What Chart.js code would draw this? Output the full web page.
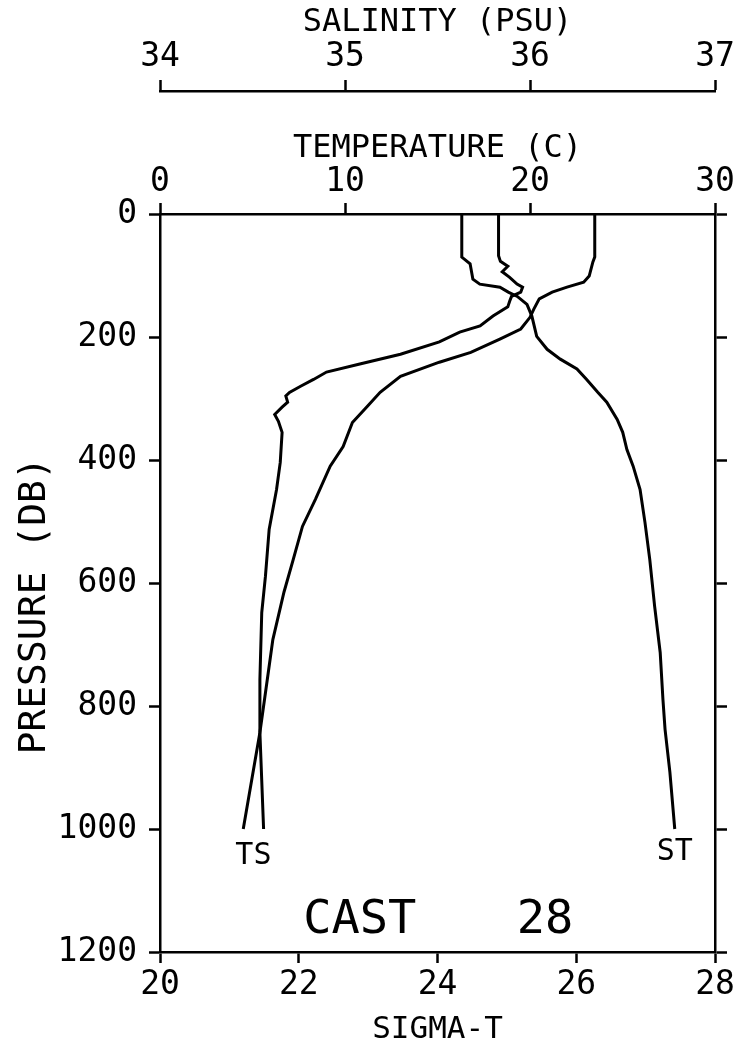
<!DOCTYPE html>
<html>
<head>
<meta charset="utf-8">
<script src="https://cdn.jsdelivr.net/npm/chart.js@4.4.1/dist/chart.umd.min.js"></script>
<style>
  html, body { margin: 0; padding: 0; background: #fff; }
</style>
</head>
<body>
<canvas id="cast" width="740" height="1050"></canvas>
<script>
// CTD cast 28 - temperature, salinity and sigma-t against pressure
const tempPres = [0, 70, 78, 101, 111, 119, 127, 138, 155, 168, 187, 203, 225, 241, 264, 290, 313, 339, 378, 410, 464, 508, 562, 615, 692, 757, 843, 1000];
const tempVals = [23.5, 23.5, 23.4, 23.2, 22.9, 22.0, 21.2, 20.5, 20.2, 20.0, 19.5, 18.4, 16.8, 15.1, 13.0, 11.9, 11.2, 10.4, 9.9, 9.2, 8.4, 7.7, 7.2, 6.7, 6.1, 5.8, 5.4, 4.5];

const salPres = [0, 68, 77, 85, 94, 103, 114, 119, 127, 134, 142, 151, 166, 182, 192, 208, 228, 244, 257, 269, 280, 290, 296, 306, 314, 326, 337, 355, 404, 448, 513, 589, 648, 757, 843, 1000];
const salVals = [35.83, 35.83, 35.84, 35.88, 35.85, 35.89, 35.93, 35.96, 35.95, 35.90, 35.89, 35.88, 35.80, 35.73, 35.62, 35.51, 35.30, 35.08, 34.90, 34.83, 34.76, 34.70, 34.68, 34.69, 34.66, 34.62, 34.64, 34.66, 34.65, 34.63, 34.59, 34.57, 34.55, 34.54, 34.54, 34.56];

const sigPres = [0, 70, 81, 106, 114, 119, 127, 134, 147, 166, 199, 220, 236, 252, 269, 290, 306, 334, 355, 383, 410, 448, 501, 562, 638, 713, 790, 838, 908, 1000];
const sigVals = [24.35, 24.35, 24.47, 24.51, 24.61, 24.90, 25.02, 25.15, 25.29, 25.36, 25.43, 25.58, 25.77, 26.01, 26.15, 26.31, 26.44, 26.59, 26.67, 26.73, 26.82, 26.92, 26.99, 27.06, 27.13, 27.21, 27.25, 27.28, 27.35, 27.42];

const presTicks = [0, 200, 400, 600, 800, 1000, 1200];
const tempTicks = [0, 10, 20, 30];
const salTicks = [34, 35, 36, 37];
const sigTicks = [20, 22, 24, 26, 28];

const castNo = '28';

const FONT = "'DejaVu Sans Mono', monospace";
Chart.defaults.font.family = FONT;
Chart.defaults.color = '#000';

const toPoints = (vals, pres) => vals.map((v, i) => ({x: v, y: pres[i]}));
const fixTicks = list => scale => { scale.ticks = list.map(v => ({value: v})); };
const plain = v => String(v);

function axis(opts) {
    return Object.assign({
        type: 'linear',
        grid: { drawOnChartArea: false, drawTicks: true, tickLength: 11, tickWidth: 2.5, tickColor: '#000' },
        border: { display: true, color: '#000', width: 2.5 },
    }, opts);
}

const castLabels = {
    id: 'castLabels',
    afterDraw(chart) {
        const {ctx, scales} = chart;
        ctx.save();
        ctx.fillStyle = '#000';
        ctx.textAlign = 'center';
        ctx.textBaseline = 'middle';
        ctx.font = '30px ' + FONT;
        const tsX = (scales.xT.getPixelForValue(tempVals[tempVals.length - 1]) +
                     scales.xS.getPixelForValue(salVals[salVals.length - 1])) / 2;
        ctx.fillText('TS', tsX, scales.y.getPixelForValue(1044));
        ctx.fillText('ST', scales.xSig.getPixelForValue(sigVals[sigVals.length - 1]), scales.y.getPixelForValue(1037));
        ctx.font = '47px ' + FONT;
        const yc = scales.y.getPixelForValue(1150);
        ctx.fillText('CAST', scales.xSig.getPixelForValue(22.88), yc);
        ctx.fillText(castNo, scales.xSig.getPixelForValue(25.55), yc);
        ctx.restore();
    }
};

const line = {
    showLine: true,
    borderColor: '#000',
    backgroundColor: '#000',
    borderWidth: 3,
    pointRadius: 0,
    tension: 0,
    fill: false,
    yAxisID: 'y',
};

new Chart(document.getElementById('cast').getContext('2d'), {
    type: 'scatter',
    data: {
        datasets: [
            Object.assign({ label: 'Temperature', data: toPoints(tempVals, tempPres), xAxisID: 'xT' }, line),
            Object.assign({ label: 'Salinity', data: toPoints(salVals, salPres), xAxisID: 'xS' }, line),
            Object.assign({ label: 'Sigma-T', data: toPoints(sigVals, sigPres), xAxisID: 'xSig' }, line),
        ],
    },
    options: {
        responsive: false,
        animation: false,
        devicePixelRatio: 1,
        layout: { padding: 0 },
        plugins: { legend: { display: false }, tooltip: { enabled: false } },
        scales: {
            xS: axis({
                position: 'top', weight: 10, min: 34, max: 37,
                afterBuildTicks: fixTicks(salTicks),
                afterFit: s => { s.height = 91; },
                ticks: { font: { size: 33 }, color: '#000', padding: 3, callback: plain },
                title: { display: true, text: 'SALINITY (PSU)', font: { size: 32 }, color: '#000', padding: { top: 3, bottom: 0 } },
            }),
            xT: axis({
                position: 'top', weight: 0, min: 0, max: 30,
                afterBuildTicks: fixTicks(tempTicks),
                afterFit: s => { s.height = 123; },
                ticks: { font: { size: 33 }, color: '#000', padding: 1, callback: plain },
                title: { display: true, text: 'TEMPERATURE (C)', font: { size: 32 }, color: '#000', padding: { top: 38, bottom: 0 } },
            }),
            xSig: axis({
                position: 'bottom', min: 20, max: 28,
                afterBuildTicks: fixTicks(sigTicks),
                afterFit: s => { s.height = 98; },
                ticks: { font: { size: 33 }, color: '#000', padding: 3, callback: plain },
                title: { display: true, text: 'SIGMA-T', font: { size: 31 }, color: '#000', padding: { top: 0, bottom: 1 } },
            }),
            y: axis({
                position: 'left', reverse: true, min: 0, max: 1200,
                afterBuildTicks: fixTicks(presTicks),
                afterFit: s => { s.width = 160; },
                ticks: { font: { size: 33 }, color: '#000', padding: 12, callback: plain },
                title: { display: true, text: 'PRESSURE (DB)\u00a0\u00a0', font: { size: 38 }, color: '#000', padding: { top: 12, bottom: 0 } },
            }),
            y2: axis({
                position: 'right', reverse: true, min: 0, max: 1200,
                afterBuildTicks: fixTicks(presTicks),
                afterFit: s => { s.width = 25; },
                ticks: { display: false },
                grid: { drawOnChartArea: false, drawTicks: true, tickLength: 12, tickWidth: 2.5, tickColor: '#000' },
            }),
        },
    },
    plugins: [castLabels],
});
</script>
</body>
</html>
